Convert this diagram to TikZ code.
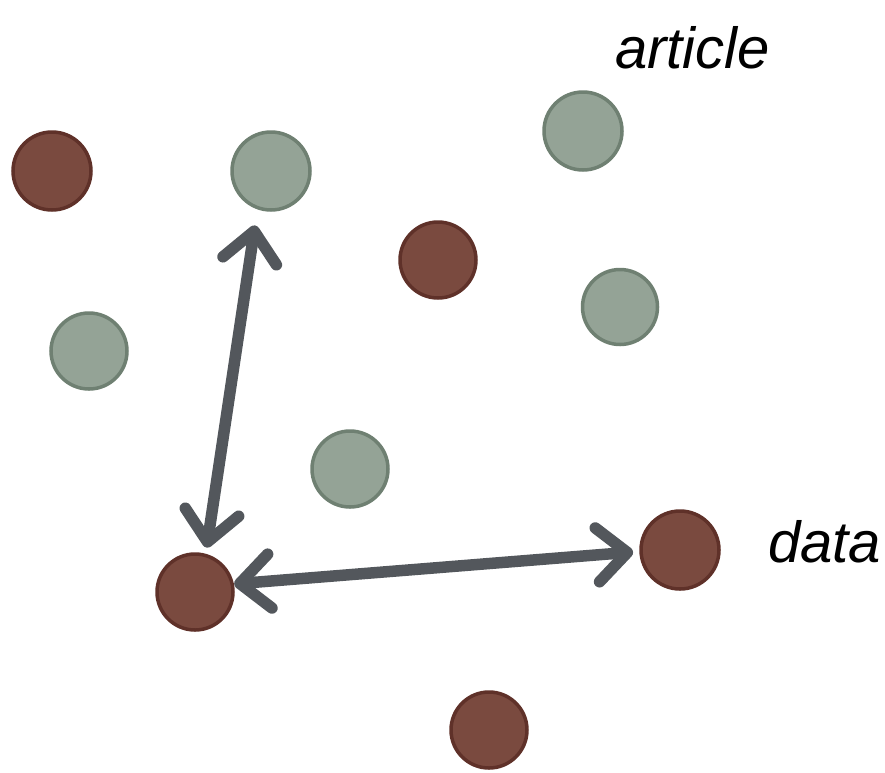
\documentclass[tikz,border=0pt]{standalone}
\usepackage{fontspec}
\setmainfont{Liberation Sans}
\usetikzlibrary{arrows.meta}
\definecolor{brownfill}{HTML}{7A4A3F}
\definecolor{brownline}{HTML}{5F3129}
\definecolor{greyfill}{HTML}{94A396}
\definecolor{greyline}{HTML}{6F8072}
\definecolor{arrowgrey}{HTML}{53575C}
\tikzset{
  dot/.style={circle, minimum size=#1, inner sep=0pt, outer sep=0pt, line width=3.5pt},
  browndot/.style={dot=#1, fill=brownfill, draw=brownline},
  greydot/.style={dot=#1, fill=greyfill, draw=greyline},
  lbl/.style={font=\fontsize{58}{58}\selectfont\itshape, inner sep=0pt, anchor=base west},
  biarrow/.style={arrowgrey, line width=11.5pt,
    {Straight Barb[length=30pt,width=54pt,line cap=round,line join=round]}-{Straight Barb[length=30pt,width=54pt,line cap=round,line join=round]}}
}
\begin{document}
\begin{tikzpicture}[x=1pt,y=-1pt]
\useasboundingbox (0,0) rectangle (885,772);
\node[browndot=78pt] (b1) at (52,171) {};
\node[greydot=78pt] (g1) at (271,171) {};
\node[greydot=78pt] (g2) at (583,131) {};
\node[browndot=76pt] (b2) at (438,260) {};
\node[greydot=75pt] (g3) at (620,307) {};
\node[greydot=76pt] (g4) at (89,351) {};
\node[greydot=76pt] (g5) at (350,469) {};
\node[browndot=78pt] (b3) at (680,550) {};
\node[browndot=76pt] (b4) at (195,592) {};
\node[browndot=76pt] (b5) at (489,730) {};
\node[lbl] (article) at (615,68) {article};
\node[lbl] (data) at (768,562) {data};
\draw[biarrow, shorten <=18pt, shorten >=8pt] (g1.250) -- (b4.74);
\draw[biarrow, shorten <=2pt, shorten >=8pt] (b4.12) -- (b3.182);
\end{tikzpicture}
\end{document}
